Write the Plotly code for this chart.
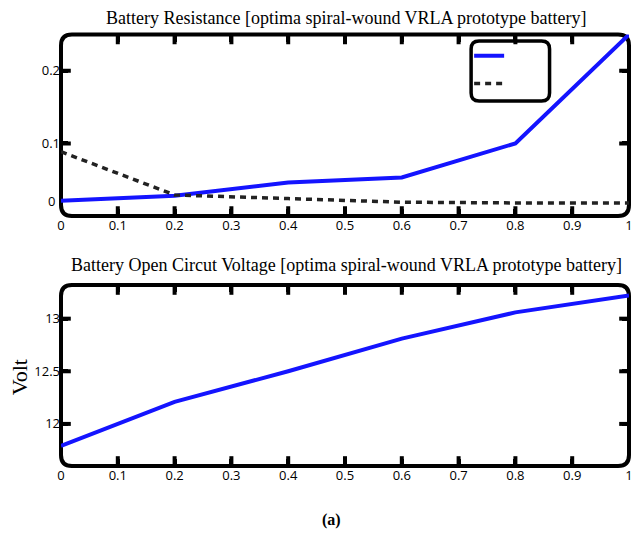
import plotly.graph_objects as go

# ---- data ----
soc = [0.0, 0.2, 0.4, 0.6, 0.8, 1.0]
res_blue = [0.021, 0.028, 0.046, 0.053, 0.100, 0.250]
res_dash = [0.0885, 0.029, 0.024, 0.019, 0.018, 0.018]
ocv = [11.79, 12.21, 12.50, 12.81, 13.06, 13.22]

x_ticks = [0, 0.1, 0.2, 0.3, 0.4, 0.5, 0.6, 0.7, 0.8, 0.9, 1]
x_tick_text = ["0", "0.1", "0.2", "0.3", "0.4", "0.5", "0.6", "0.7", "0.8", "0.9", "1"]
x_marks = [0.1, 0.2, 0.3, 0.4, 0.5, 0.6, 0.7, 0.8, 0.9]
y1_ticks = [0, 0.1, 0.2]
y1_tick_text = ["", "0.1", "0.2"]
y1_marks = [0.1, 0.2]
y1_zero_label = "0"
y1_zero_label_pos = 0.021   # the "0" label sits a little above the axis bottom
y2_ticks = [12, 12.5, 13]
y2_tick_text = ["12", "12.5", "13"]
y2_marks = [12, 12.5, 13]
x_range = [0, 1]
y1_range = [0, 0.25]
y2_range = [11.6, 13.32]

title1 = "Battery Resistance [optima spiral-wound VRLA prototype battery]"
title2 = "Battery Open Circut Voltage [optima spiral-wound VRLA prototype battery]"

W, H = 635, 537
ML, MR, MT, MB = 61, 2, 34, 71
PW = W - ML - MR
PH = H - MT - MB


def px(xp):
    return (xp - ML) / PW


def py(yp):
    return (H - MB - yp) / PH


def rrect(x0, y0, x1, y1, r):
    X = lambda v: f"{px(v):.5f}"
    Y = lambda v: f"{py(v):.5f}"
    return (f"M{X(x0 + r)},{Y(y0)} L{X(x1 - r)},{Y(y0)} Q{X(x1)},{Y(y0)} {X(x1)},{Y(y0 + r)} "
            f"L{X(x1)},{Y(y1 - r)} Q{X(x1)},{Y(y1)} {X(x1 - r)},{Y(y1)} "
            f"L{X(x0 + r)},{Y(y1)} Q{X(x0)},{Y(y1)} {X(x0)},{Y(y1 - r)} "
            f"L{X(x0)},{Y(y0 + r)} Q{X(x0)},{Y(y0)} {X(x0 + r)},{Y(y0)} Z")


top_y0, top_y1 = 34.5, 216
bot_y0, bot_y1 = 285, 466
top_dom = [py(top_y1), py(top_y0)]
bot_dom = [py(bot_y1), py(bot_y0)]

fig = go.Figure()
fig.add_trace(go.Scatter(x=soc, y=res_blue, mode="lines", name=" ",
                         line=dict(color="rgb(20,20,255)", width=4), xaxis="x", yaxis="y"))
fig.add_trace(go.Scatter(x=soc, y=res_dash, mode="lines", name=" ",
                         line=dict(color="#222222", width=3.5, dash="6px,5px"), xaxis="x", yaxis="y"))
fig.add_trace(go.Scatter(x=soc, y=ocv, mode="lines", showlegend=False,
                         line=dict(color="rgb(20,20,255)", width=4), xaxis="x2", yaxis="y2"))

# tick marks drawn as clipped line markers on the frame edges (inward half visible)
TS, TW = 14, 4
for xa, ya, yr, ym in (("x", "y", y1_range, y1_marks), ("x2", "y2", y2_range, y2_marks)):
    fig.add_trace(go.Scatter(
        x=x_marks + x_marks, y=[yr[0]] * len(x_marks) + [yr[1]] * len(x_marks),
        mode="markers", showlegend=False, hoverinfo="skip", cliponaxis=True,
        marker=dict(symbol="line-ns", size=TS, color="black", line=dict(color="black", width=TW)),
        xaxis=xa, yaxis=ya))
    fig.add_trace(go.Scatter(
        x=[x_range[0]] * len(ym) + [x_range[1]] * len(ym), y=ym + ym,
        mode="markers", showlegend=False, hoverinfo="skip", cliponaxis=True,
        marker=dict(symbol="line-ew", size=TS, color="black", line=dict(color="black", width=TW)),
        xaxis=xa, yaxis=ya))

tickfont = dict(family="Open Sans", size=13, color="black")
axstyle = dict(ticks="inside", ticklen=7, tickwidth=4, tickcolor="black", mirror="ticks",
               showline=False, showgrid=False, zeroline=False, tickfont=tickfont)

# frames sit below the traces/ticks; plot background is transparent so they stay visible
shapes = [
    dict(type="path", xref="paper", yref="paper", layer="below",
         path=rrect(ML, top_y0, 633, top_y1, 11), line=dict(color="black", width=4)),
    dict(type="path", xref="paper", yref="paper", layer="below",
         path=rrect(ML, bot_y0, 633, bot_y1, 11), line=dict(color="black", width=4)),
    dict(type="path", xref="paper", yref="paper", layer="below",
         path=rrect(474, 41, 553, 101, 8), line=dict(color="black", width=3.5)),
]

fig.update_layout(
    width=W, height=H,
    margin=dict(l=ML, r=MR, t=MT, b=MB),
    paper_bgcolor="white", plot_bgcolor="rgba(0,0,0,0)",
    xaxis=dict(range=x_range, domain=[0, 1], anchor="y", tickvals=x_ticks, ticktext=x_tick_text,
               ticklabeloverflow="allow", **axstyle),
    yaxis=dict(range=y1_range, domain=top_dom, anchor="x", tickvals=y1_ticks, ticktext=y1_tick_text,
               **axstyle),
    xaxis2=dict(range=x_range, domain=[0, 1], anchor="y2", tickvals=x_ticks, ticktext=x_tick_text,
                ticklabeloverflow="allow", **axstyle),
    yaxis2=dict(range=y2_range, domain=bot_dom, anchor="x2", tickvals=y2_ticks,
                ticktext=y2_tick_text, **axstyle),
    showlegend=True,
    legend=dict(x=px(472), y=py(37), xanchor="left", yanchor="top",
                bgcolor="rgba(0,0,0,0)", borderwidth=0,
                font=dict(size=19, color="black")),
    shapes=shapes,
    annotations=[
        dict(text=y1_zero_label, xref="paper", yref="y", x=px(57), y=y1_zero_label_pos,
             showarrow=False, xanchor="right", yanchor="middle", font=tickfont),
        dict(text=title1, xref="paper", yref="paper", x=px(349), y=py(18), showarrow=False,
             xanchor="center", yanchor="middle",
             font=dict(family="Liberation Serif", size=18, color="black")),
        dict(text=title2, xref="paper", yref="paper", x=px(349), y=py(265), showarrow=False,
             xanchor="center", yanchor="middle",
             font=dict(family="Liberation Serif", size=18, color="black")),
        dict(text="Volt", xref="paper", yref="paper", x=px(19), y=py(377), showarrow=False,
             textangle=-90, xanchor="center", yanchor="middle",
             font=dict(family="Liberation Serif", size=22, color="black")),
        dict(text="<b>(a)</b>", xref="paper", yref="paper", x=px(333), y=py(520), showarrow=False,
             xanchor="center", yanchor="middle",
             font=dict(family="Liberation Serif", size=16, color="black")),
    ],
)

fig.write_html("out.html")
